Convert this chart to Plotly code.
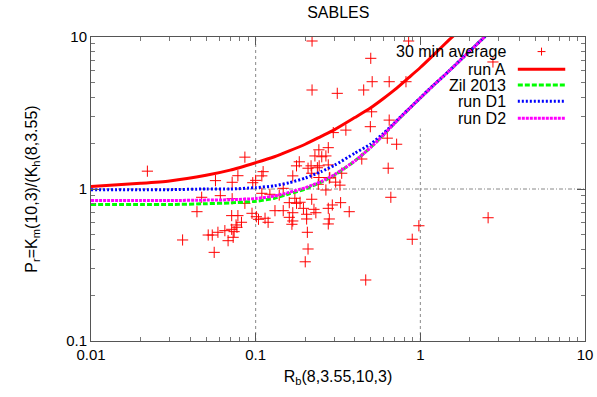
import plotly.graph_objects as go

# ---- observations: 30 min average ----
rb_obs = [0.022, 0.086, 0.057, 0.072, 0.078, 0.096, 0.061, 0.047, 0.072, 0.086,
          0.044, 0.0715, 0.078, 0.095, 0.101, 0.082, 0.076, 0.077, 0.0715, 0.074,
          0.065, 0.059, 0.0515, 0.0545, 0.073, 0.068, 0.036, 0.056, 0.22, 0.50,
          0.51, 0.22, 0.313, 0.453, 0.506, 0.353, 0.296, 0.497, 0.849, 0.647,
          0.818, 0.647, 2.76, 0.630, 0.718, 0.242, 0.276, 0.229, 0.252, 0.267,
          0.441, 0.208, 0.237, 0.276, 0.219, 0.638, 0.333, 0.282, 0.325, 0.306,
          0.267, 0.240, 0.662, 0.219, 0.195, 0.226, 0.232, 0.292, 0.328, 0.276,
          0.370, 0.204, 0.204, 0.280, 0.276, 0.206, 0.208, 0.200, 0.466, 0.98,
          0.893, 2.58, 0.186, 0.184, 0.177, 0.217, 0.243, 0.168, 0.242, 0.280,
          0.111, 0.109, 0.100, 0.147, 0.109, 0.122, 0.139, 0.173, 0.160, 0.177,
          0.131, 0.147, 0.168, 0.160, 0.114, 0.104, 0.119, 0.168, 0.166]
pr_obs = [1.31, 1.62, 1.135, 1.107, 1.223, 1.10, 0.904, 0.882, 0.863, 0.805,
          0.709, 0.668, 0.668, 0.692, 0.657, 0.604, 0.580, 0.560, 0.543, 0.524,
          0.532, 0.519, 0.498, 0.498, 0.481, 0.457, 0.462, 0.383, 9.41, 7.24,
          5.08, 4.48, 4.26, 4.48, 3.22, 2.44, 2.35, 2.57, 9.41, 5.08,
          5.08, 2.84, 6.85, 2.16, 1.97, 1.81, 1.87, 1.65, 1.63, 1.65,
          1.575, 1.37, 1.38, 1.44, 1.27, 1.37, 1.27, 1.19, 1.06, 1.11,
          0.985, 1.074, 0.882, 0.856, 0.746, 0.735, 0.698, 0.785, 0.813, 0.746,
          0.709, 0.682, 0.635, 0.635, 0.589, 0.519, 0.403, 0.332, 0.252, 0.573,
          0.467, 0.647, 0.818, 1.51, 1.42, 1.42, 1.42, 1.22, 1.19, 1.18,
          1.30, 1.22, 1.14, 1.01, 0.937, 0.923, 0.913, 0.869, 0.813, 0.805,
          0.720, 0.720, 0.698, 0.651, 0.642, 0.632, 0.604, 0.616, 0.586]

# ---- model curves ----
rb_curve = [0.01, 0.02, 0.03, 0.05, 0.07, 0.1, 0.13, 0.16, 0.2, 0.25, 0.3,
            0.4, 0.5, 0.6, 0.7, 0.85, 1.0, 1.2, 1.5, 2.0, 2.5, 3.0]
pr_runA = [1.04, 1.09, 1.13, 1.23, 1.33, 1.49, 1.63, 1.78, 1.97, 2.22, 2.45,
           2.95, 3.42, 3.95, 4.5, 5.4, 6.3, 7.6, 9.6, 12.8, 16.0, 19.0]
pr_zil = [0.79, 0.79, 0.79, 0.80, 0.81, 0.83, 0.87, 0.93, 1.0, 1.11, 1.23,
          1.53, 1.88, 2.28, 2.72, 3.35, 3.97, 4.8, 6.0, 8.1, 10.2, 12.3]
pr_D1 = [0.99, 0.99, 0.99, 1.0, 1.0, 1.02, 1.05, 1.10, 1.18, 1.30, 1.43,
         1.72, 1.98, 2.33, 2.74, 3.36, 3.98, 4.81, 6.0, 8.1, 10.2, 12.3]
pr_D2 = [0.84, 0.84, 0.84, 0.845, 0.85, 0.865, 0.90, 0.95, 1.02, 1.12, 1.24,
         1.53, 1.88, 2.28, 2.72, 3.35, 3.97, 4.8, 6.0, 8.1, 10.2, 12.3]

x_ticks = [0.01, 0.1, 1, 10]
x_ticktext = ["0.01", "0.1", "1", "10"]
y_ticks = [0.1, 1, 10]
y_ticktext = ["0.1", "1", "10"]

legend_names = ["30 min average", "run A", "Zil 2013", "run D1", "run D2"]
colors = ["#ff0000", "#ff0000", "#00ff00", "#0000ff", "#ff00ff"]
dashes = [None, "solid", "5px,2px", "2px,2px", "3px,1px"]

FONT = "Liberation Sans, Arial, sans-serif"

fig = go.Figure()
fig.add_trace(go.Scatter(x=rb_obs, y=pr_obs, mode="markers",
                         marker=dict(symbol="cross-thin", size=8,
                                     line=dict(color=colors[0], width=1)),
                         showlegend=False))
for name, ys, c, d in [(legend_names[1], pr_runA, colors[1], dashes[1]),
                       (legend_names[2], pr_zil, colors[2], dashes[2]),
                       (legend_names[3], pr_D1, colors[3], dashes[3]),
                       (legend_names[4], pr_D2, colors[4], dashes[4])]:
    fig.add_trace(go.Scatter(x=rb_curve, y=ys, mode="lines", name=name,
                             line=dict(color=c, width=3, dash=d, shape="spline",
                                       smoothing=0.6),
                             showlegend=False))

# grid lines (gnuplot style, only at major ticks)
grid = dict(color="#888888", width=1, dash="dot")
fig.add_shape(type="line", xref="x", yref="y", x0=0.1, x1=0.1, y0=0.1, y1=10,
              line=grid, layer="below")
fig.add_shape(type="line", xref="x", yref="y", x0=1, x1=1, y0=0.1, y1=2.5,
              line=grid, layer="below")
fig.add_shape(type="line", xref="x", yref="y", x0=0.01, x1=10, y0=1, y1=1,
              line=dict(color="#888888", width=1, dash="4px,2px,1px,2px"), layer="below")

# custom gnuplot-like key (text right-aligned, sample on the right)
key_y = [0.952, 0.894, 0.842, 0.789, 0.733]
tx, sx0, sx1 = 0.845, 0.864, 0.960
for i, name in enumerate(legend_names):
    fig.add_annotation(x=tx, y=key_y[i], xref="paper", yref="paper", text=name,
                       showarrow=False, xanchor="right", yanchor="middle",
                       font=dict(family=FONT, size=16, color="black"))
    if i == 0:
        cx = (sx0 + sx1) / 2
        fig.add_shape(type="line", xref="paper", yref="paper", x0=cx - 0.008, x1=cx + 0.008,
                      y0=key_y[i], y1=key_y[i], line=dict(color=colors[i], width=1))
        fig.add_shape(type="line", xref="paper", yref="paper", x0=cx, x1=cx,
                      y0=key_y[i] - 0.013, y1=key_y[i] + 0.013, line=dict(color=colors[i], width=1))
    else:
        fig.add_shape(type="line", xref="paper", yref="paper", x0=sx0, x1=sx1,
                      y0=key_y[i], y1=key_y[i], line=dict(color=colors[i], width=3, dash=dashes[i]))

axis_common = dict(type="log", showgrid=False, zeroline=False, showline=True,
                   linecolor="#555555", linewidth=1, mirror="allticks",
                   ticks="inside", ticklen=8, tickcolor="#555555", automargin=False,
                   tickfont=dict(family=FONT, size=15, color="black"),
                   minor=dict(ticks="inside", ticklen=4, tickcolor="#777777",
                              dtick="D1", showgrid=False))

fig.update_layout(
    width=597, height=397, autosize=False,
    margin=dict(l=91, r=12, t=37, b=56),
    paper_bgcolor="white", plot_bgcolor="white",
    title=dict(text="SABLES", x=0.5666, xanchor="center", y=0.97, yanchor="middle",
               font=dict(family=FONT, size=16, color="black")),
    xaxis=dict(axis_common, range=[-2, 1], tickvals=x_ticks, ticktext=x_ticktext,
               title=dict(text="R<sub>b</sub>(8,3.55,10,3)", standoff=8,
                          font=dict(family=FONT, size=16, color="black"))),
    yaxis=dict(axis_common, range=[-1, 1], tickvals=y_ticks, ticktext=y_ticktext,
               title=dict(text="P<sub>r</sub>=K<sub>m</sub>(10,3)/(K<sub>h</sub>(8,3.55)",
                          standoff=24, font=dict(family=FONT, size=16, color="black"))),
    showlegend=False,
)

fig.write_html("out.html", config={"responsive": False})

# keep the page free of margins/scrollbars so the figure is shown at its exact size
with open("out.html", "r", encoding="utf-8") as f:
    html = f.read()
html = html.replace("<head>", "<head><style>html,body{margin:0;padding:0;overflow:hidden;}</style>", 1)
with open("out.html", "w", encoding="utf-8") as f:
    f.write(html)
